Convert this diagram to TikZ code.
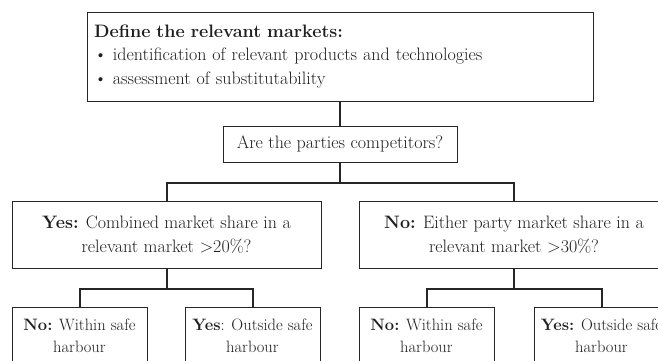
\documentclass[tikz,border=0pt]{standalone}
\begin{document}
\begin{tikzpicture}[x=1pt,y=-1pt,
  box/.style={draw=black!85, line width=1pt, inner sep=0pt, align=center,
    text=black!88, font=\fontsize{18}{23.5}\selectfont},
  leaf/.style={box, minimum width=135pt, minimum height=58pt,
    font=\fontsize{16.5}{22}\selectfont},
  conn/.style={draw=black!85, line width=2pt}]
\useasboundingbox (0,0) rectangle (658,360);
\clip (0,0) rectangle (658,360);
\fill[white] (0,0) rectangle (658,360);

% market definition
\node[box, minimum width=506pt, minimum height=89pt, text width=492pt, align=left]
  (def) at (340,56.5)
  {\textbf{Define the relevant markets:}\\
   \textbullet\ identification of relevant products and technologies\\
   \textbullet\ assessment of substitutability};

% competitor question
\node[box, minimum width=234pt, minimum height=36pt] (q) at (340,144)
  {Are the parties competitors?};

% market share tests
\node[box, minimum width=309pt, minimum height=67pt] (m1) at (166.5,234.5)
  {\textbf{Yes:} Combined market share in a\\ relevant market >20\%?};
\node[box, minimum width=310pt, minimum height=67pt] (m2) at (514,234.5)
  {\textbf{No:} Either party market share in a\\ relevant market >30\%?};

% outcomes
\node[leaf] (l1) at (79.5,336) {\textbf{No:} Within safe\\ harbour};
\node[leaf] (l2) at (252.5,336) {\textbf{Yes}: Outside safe\\ harbour};
\node[leaf] (l3) at (426.5,336) {\textbf{No:} Within safe\\ harbour};
\node[leaf] (l4) at (601.5,336) {\textbf{Yes:} Outside safe\\ harbour};

% connectors
\draw[conn] (def.south) -- (q.north);
\draw[conn] (q.south) -- ++(0,20) coordinate (j0) -| (m1.north);
\draw[conn] (j0) -| (m2.north);
\draw[conn] (m1.south) -- ++(0,20) coordinate (j1) -| (l1.north);
\draw[conn] (j1) -| (l2.north);
\draw[conn] (m2.south) -- ++(0,20) coordinate (j2) -| (l3.north);
\draw[conn] (j2) -| (l4.north);
\end{tikzpicture}
\end{document}
